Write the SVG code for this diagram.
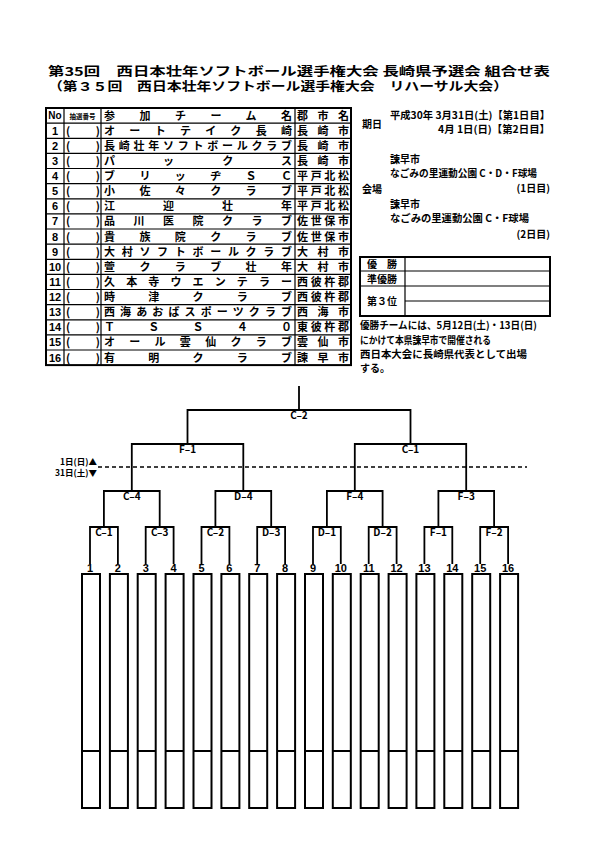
<svg xmlns="http://www.w3.org/2000/svg" width="595" height="842" viewBox="0 0 595 842">
<style>
text{font-family:"Noto Sans CJK JP","Noto Sans CJK SC",sans-serif;font-weight:700;fill:#000}
.t{font-size:12px}
.r{font-size:11px}
.s{font-size:10px}
.lat{font-family:"Liberation Sans",Arial,sans-serif;font-weight:700}
.lbl{font-size:10px;text-anchor:middle}
.num{font-size:11px;text-anchor:middle}
.c{text-anchor:middle}
.e{text-anchor:end}
.ln{stroke:#000;stroke-width:1.2;fill:none}
.bd{stroke:#000;stroke-width:2;fill:none}
.br{stroke:#000;stroke-width:1.8;fill:none}
.slot{stroke:#000;stroke-width:2;fill:#fff}
</style>
<rect width="595" height="842" fill="#fff"/>
<g id="title">
<text class="t" x="48" y="76" textLength="502" lengthAdjust="spacingAndGlyphs">第35回　西日本壮年ソフトボール選手権大会 長崎県予選会 組合せ表</text>
<text class="t" x="48" y="91" textLength="460" lengthAdjust="spacingAndGlyphs">（第３５回　西日本壮年ソフトボール選手権大会　リハーサル大会）</text>
</g>
<g id="team-table">
<rect class="bd" x="46" y="108" width="305" height="257.1"/>
<path class="ln" d="M64 108V365.1M101 108V365.1M295 108V365.1M46 123.1H351M46 138.3H351M46 153.4H351M46 168.5H351M46 183.6H351M46 198.8H351M46 213.9H351M46 229H351M46 244.1H351M46 259.3H351M46 274.4H351M46 289.5H351M46 304.6H351M46 319.8H351M46 334.9H351M46 350H351"/>
<text class="lat c" x="55" y="119" style="font-size:10px">No</text>
<text x="82.5" y="118.5" class="c" style="font-size:6.5px">抽選番号</text>
<text class="r" x="104" y="119.5" textLength="188" lengthAdjust="spacing">参加チーム名</text>
<text class="r" x="297" y="119.5" textLength="52" lengthAdjust="spacing">郡市名</text>
<g class="r">
<text class="lat c" x="55" y="134.6">1</text><text x="66" y="134.6">(</text><text class="e" x="100" y="134.6">)</text><text x="104" y="134.6" textLength="188" lengthAdjust="spacing">オートテイク長崎</text><text x="297" y="134.6" textLength="52" lengthAdjust="spacing">長崎市</text>
<text class="lat c" x="55" y="149.8">2</text><text x="66" y="149.8">(</text><text class="e" x="100" y="149.8">)</text><text x="104" y="149.8" textLength="188" lengthAdjust="spacing">長崎壮年ソフトボールクラブ</text><text x="297" y="149.8" textLength="52" lengthAdjust="spacing">長崎市</text>
<text class="lat c" x="55" y="164.9">3</text><text x="66" y="164.9">(</text><text class="e" x="100" y="164.9">)</text><text x="104" y="164.9" textLength="188" lengthAdjust="spacing">パックス</text><text x="297" y="164.9" textLength="52" lengthAdjust="spacing">長崎市</text>
<text class="lat c" x="55" y="180">4</text><text x="66" y="180">(</text><text class="e" x="100" y="180">)</text><text x="104" y="180" textLength="188" lengthAdjust="spacing">ブリッヂＳＣ</text><text x="297" y="180" textLength="52" lengthAdjust="spacing">平戸北松</text>
<text class="lat c" x="55" y="195.1">5</text><text x="66" y="195.1">(</text><text class="e" x="100" y="195.1">)</text><text x="104" y="195.1" textLength="188" lengthAdjust="spacing">小佐々クラブ</text><text x="297" y="195.1" textLength="52" lengthAdjust="spacing">平戸北松</text>
<text class="lat c" x="55" y="210.3">6</text><text x="66" y="210.3">(</text><text class="e" x="100" y="210.3">)</text><text x="104" y="210.3" textLength="188" lengthAdjust="spacing">江迎壮年</text><text x="297" y="210.3" textLength="52" lengthAdjust="spacing">平戸北松</text>
<text class="lat c" x="55" y="225.4">7</text><text x="66" y="225.4">(</text><text class="e" x="100" y="225.4">)</text><text x="104" y="225.4" textLength="188" lengthAdjust="spacing">品川医院クラブ</text><text x="297" y="225.4" textLength="52" lengthAdjust="spacing">佐世保市</text>
<text class="lat c" x="55" y="240.5">8</text><text x="66" y="240.5">(</text><text class="e" x="100" y="240.5">)</text><text x="104" y="240.5" textLength="188" lengthAdjust="spacing">貴族院クラブ</text><text x="297" y="240.5" textLength="52" lengthAdjust="spacing">佐世保市</text>
<text class="lat c" x="55" y="255.6">9</text><text x="66" y="255.6">(</text><text class="e" x="100" y="255.6">)</text><text x="104" y="255.6" textLength="188" lengthAdjust="spacing">大村ソフトボールクラブ</text><text x="297" y="255.6" textLength="52" lengthAdjust="spacing">大村市</text>
<text class="lat c" x="55" y="270.8">10</text><text x="66" y="270.8">(</text><text class="e" x="100" y="270.8">)</text><text x="104" y="270.8" textLength="188" lengthAdjust="spacing">萱クラブ壮年</text><text x="297" y="270.8" textLength="52" lengthAdjust="spacing">大村市</text>
<text class="lat c" x="55" y="285.9">11</text><text x="66" y="285.9">(</text><text class="e" x="100" y="285.9">)</text><text x="104" y="285.9" textLength="188" lengthAdjust="spacing">久本寺ウエンテラー</text><text x="297" y="285.9" textLength="52" lengthAdjust="spacing">西彼杵郡</text>
<text class="lat c" x="55" y="301">12</text><text x="66" y="301">(</text><text class="e" x="100" y="301">)</text><text x="104" y="301" textLength="188" lengthAdjust="spacing">時津クラブ</text><text x="297" y="301" textLength="52" lengthAdjust="spacing">西彼杵郡</text>
<text class="lat c" x="55" y="316.1">13</text><text x="66" y="316.1">(</text><text class="e" x="100" y="316.1">)</text><text x="104" y="316.1" textLength="188" lengthAdjust="spacing">西海あおばスポーツクラブ</text><text x="297" y="316.1" textLength="52" lengthAdjust="spacing">西海市</text>
<text class="lat c" x="55" y="331.3">14</text><text x="66" y="331.3">(</text><text class="e" x="100" y="331.3">)</text><text x="104" y="331.3" textLength="188" lengthAdjust="spacing">ＴＳＳ４０</text><text x="297" y="331.3" textLength="52" lengthAdjust="spacing">東彼杵郡</text>
<text class="lat c" x="55" y="346.4">15</text><text x="66" y="346.4">(</text><text class="e" x="100" y="346.4">)</text><text x="104" y="346.4" textLength="188" lengthAdjust="spacing">オール雲仙クラブ</text><text x="297" y="346.4" textLength="52" lengthAdjust="spacing">雲仙市</text>
<text class="lat c" x="55" y="361.5">16</text><text x="66" y="361.5">(</text><text class="e" x="100" y="361.5">)</text><text x="104" y="361.5" textLength="188" lengthAdjust="spacing">有明クラブ</text><text x="297" y="361.5" textLength="52" lengthAdjust="spacing">諫早市</text>
</g>
</g>
<g id="schedule" class="s">
<text x="362" y="128">期日</text>
<text x="390" y="119" textLength="160" lengthAdjust="spacingAndGlyphs">平成30年 3月31日(土)【第1日目】</text>
<text x="438" y="133" textLength="112" lengthAdjust="spacingAndGlyphs">4月 1日(日)【第2日目】</text>
<text x="390" y="163">諫早市</text>
<text x="390" y="177" textLength="147" lengthAdjust="spacingAndGlyphs">なごみの里運動公園 C・D・F球場</text>
<text x="362" y="193">会場</text>
<text class="e" x="550" y="192">(1日目)</text>
<text x="390" y="208">諫早市</text>
<text x="390" y="222" textLength="139" lengthAdjust="spacingAndGlyphs">なごみの里運動公園 C・F球場</text>
<text class="e" x="550" y="238">(2日目)</text>
</g>
<g id="results">
<rect class="bd" x="360" y="257" width="190" height="59"/>
<path class="ln" d="M405 257V316M360 271H550M360 286H550M405 301H550"/>
<text class="s c" x="382" y="268">優　勝</text>
<text class="s c" x="382" y="283">準優勝</text>
<text class="s c" x="382" y="305">第３位</text>
</g>
<g id="note" class="s">
<text x="360" y="329" textLength="177" lengthAdjust="spacingAndGlyphs">優勝チームには、5月12日(土)・13日(日)</text>
<text x="360" y="344" textLength="131" lengthAdjust="spacingAndGlyphs">にかけて本県諫早市で開催される</text>
<text x="360" y="358" textLength="167" lengthAdjust="spacingAndGlyphs">西日本大会に長崎県代表として出場</text>
<text x="360" y="372">する。</text>
</g>
<g id="day-divider">
<line x1="98" y1="467" x2="527" y2="467" stroke="#000" stroke-width="1.5" stroke-dasharray="4 3"/>
<text x="97" y="465" class="e" style="font-size:8.5px">1日(日)▲</text>
<text x="97" y="476" class="e" style="font-size:8.5px">31日(土)▼</text>
</g>
<g id="connectors" class="br">
<path d="M299 386V410M187.5 444V410H410.5V444"/>
<path d="M131.8 491V444H243.3V491M354.8 491V444H466.2V491"/>
<path d="M103.9 527V491H159.7V527M215.4 527V491H271.2V527M326.9 527V491H382.6V527M438.4 527V491H494.1V527"/>
<path d="M90 564V527H117.9V564M145.7 564V527H173.6V564M201.5 564V527H229.4V564M257.2 564V527H285.1V564M313 564V527H340.8V564M368.7 564V527H396.6V564M424.4 564V527H452.3V564M480.2 564V527H508.1V564"/>
</g>
<g id="match-labels" class="lat lbl">
<text x="299" y="419">C–2</text>
<text x="187.5" y="453">F–1</text>
<text x="410.5" y="453">C–1</text>
<text x="131.8" y="500">C–4</text>
<text x="243.3" y="500">D–4</text>
<text x="354.8" y="500">F–4</text>
<text x="466.2" y="500">F–3</text>
<text x="103.9" y="536">C–1</text>
<text x="159.7" y="536">C–3</text>
<text x="215.4" y="536">C–2</text>
<text x="271.2" y="536">D–3</text>
<text x="326.9" y="536">D–1</text>
<text x="382.6" y="536">D–2</text>
<text x="438.4" y="536">F–1</text>
<text x="494.1" y="536">F–2</text>
</g>
<g id="slots">
<g id="slot1"><text class="lat num" x="90" y="572">1</text><rect class="slot" x="82" y="574" width="18" height="234"/><line class="bd" x1="82" y1="751" x2="100" y2="751"/></g>
<g id="slot2"><text class="lat num" x="117.9" y="572">2</text><rect class="slot" x="109.9" y="574" width="18" height="234"/><line class="bd" x1="109.9" y1="751" x2="127.9" y2="751"/></g>
<g id="slot3"><text class="lat num" x="145.7" y="572">3</text><rect class="slot" x="137.7" y="574" width="18" height="234"/><line class="bd" x1="137.7" y1="751" x2="155.7" y2="751"/></g>
<g id="slot4"><text class="lat num" x="173.6" y="572">4</text><rect class="slot" x="165.6" y="574" width="18" height="234"/><line class="bd" x1="165.6" y1="751" x2="183.6" y2="751"/></g>
<g id="slot5"><text class="lat num" x="201.5" y="572">5</text><rect class="slot" x="193.5" y="574" width="18" height="234"/><line class="bd" x1="193.5" y1="751" x2="211.5" y2="751"/></g>
<g id="slot6"><text class="lat num" x="229.4" y="572">6</text><rect class="slot" x="221.4" y="574" width="18" height="234"/><line class="bd" x1="221.4" y1="751" x2="239.4" y2="751"/></g>
<g id="slot7"><text class="lat num" x="257.2" y="572">7</text><rect class="slot" x="249.2" y="574" width="18" height="234"/><line class="bd" x1="249.2" y1="751" x2="267.2" y2="751"/></g>
<g id="slot8"><text class="lat num" x="285.1" y="572">8</text><rect class="slot" x="277.1" y="574" width="18" height="234"/><line class="bd" x1="277.1" y1="751" x2="295.1" y2="751"/></g>
<g id="slot9"><text class="lat num" x="313" y="572">9</text><rect class="slot" x="305" y="574" width="18" height="234"/><line class="bd" x1="305" y1="751" x2="323" y2="751"/></g>
<g id="slot10"><text class="lat num" x="340.8" y="572">10</text><rect class="slot" x="332.8" y="574" width="18" height="234"/><line class="bd" x1="332.8" y1="751" x2="350.8" y2="751"/></g>
<g id="slot11"><text class="lat num" x="368.7" y="572">11</text><rect class="slot" x="360.7" y="574" width="18" height="234"/><line class="bd" x1="360.7" y1="751" x2="378.7" y2="751"/></g>
<g id="slot12"><text class="lat num" x="396.6" y="572">12</text><rect class="slot" x="388.6" y="574" width="18" height="234"/><line class="bd" x1="388.6" y1="751" x2="406.6" y2="751"/></g>
<g id="slot13"><text class="lat num" x="424.4" y="572">13</text><rect class="slot" x="416.4" y="574" width="18" height="234"/><line class="bd" x1="416.4" y1="751" x2="434.4" y2="751"/></g>
<g id="slot14"><text class="lat num" x="452.3" y="572">14</text><rect class="slot" x="444.3" y="574" width="18" height="234"/><line class="bd" x1="444.3" y1="751" x2="462.3" y2="751"/></g>
<g id="slot15"><text class="lat num" x="480.2" y="572">15</text><rect class="slot" x="472.2" y="574" width="18" height="234"/><line class="bd" x1="472.2" y1="751" x2="490.2" y2="751"/></g>
<g id="slot16"><text class="lat num" x="508.1" y="572">16</text><rect class="slot" x="500.1" y="574" width="18" height="234"/><line class="bd" x1="500.1" y1="751" x2="518.1" y2="751"/></g>
</g>
</svg>
